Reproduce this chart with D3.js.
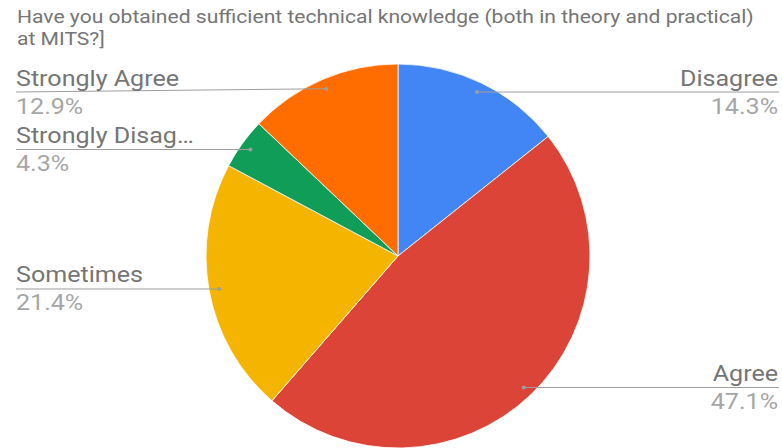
<!DOCTYPE html>
<html>
<head>
<meta charset="utf-8">
<script src="https://cdn.jsdelivr.net/npm/d3@7"></script>
<style>
  html, body { margin: 0; padding: 0; background: #fff; }
  svg { display: block; font-family: Roboto, "Noto Sans", sans-serif; }
</style>
</head>
<body>
<svg id="chart" width="782" height="448"></svg>
<script>
// ---- data ----
const titleLines = [
  "Have you obtained sufficient technical knowledge (both in theory and practical)",
  "at MITS?]"
];
const categories = ["Disagree", "Agree", "Sometimes", "Strongly Disagree", "Strongly Agree"];
const displayNames = ["Disagree", "Agree", "Sometimes", "Strongly Disag\u2026", "Strongly Agree"];
const values = [14.3, 47.1, 21.4, 4.3, 12.9];
const colors = ["#4285F4", "#DB4437", "#F4B400", "#0F9D58", "#FF6D00"];

// ---- layout ----
const W = 782, H = 448;
const cx = 398, cy = 256, R = 192, rPoint = 182;
const sx = 1.14; // horizontal text stretch
const svg = d3.select("#chart");

// title
svg.append("g").selectAll("text").data(titleLines).join("text")
  .attr("transform", (d, i) => `translate(17,${22.5 + i * 22.5}) scale(${sx},1)`)
  .attr("font-size", 18.5)
  .attr("fill", "#757575")
  .text(d => d);

const data = categories.map((c, i) => ({ name: c, label: displayNames[i], value: values[i], color: colors[i] }));
const pie = d3.pie().sort(null).value(d => d.value);
const arcs = pie(data);
const arc = d3.arc().innerRadius(0).outerRadius(R);
const pointArc = d3.arc().innerRadius(rPoint).outerRadius(rPoint);

const g = svg.append("g").attr("transform", `translate(${cx},${cy})`);
g.selectAll("path").data(arcs).join("path")
  .attr("d", arc)
  .attr("fill", d => d.data.color)
  .attr("stroke", "#fff")
  .attr("stroke-width", 0.8);

const fmt = d3.format(".1f");
const labels = svg.append("g");
arcs.forEach(a => {
  const mid = (a.startAngle + a.endAngle) / 2;
  const px = cx + Math.sin(mid) * rPoint;
  const py = cy - Math.cos(mid) * rPoint;
  const right = Math.sin(mid) > 0;
  const lineY = Math.max(py, 92);
  const lx = right ? 779 : 16;
  const tx = right ? 778 : 16;
  labels.append("path")
    .attr("d", `M${lx},${lineY}L${px},${py}`)
    .attr("stroke", "#9e9e9e")
    .attr("stroke-width", 1)
    .attr("fill", "none");
  labels.append("circle")
    .attr("cx", px).attr("cy", py).attr("r", 2)
    .attr("fill", "#9e9e9e");
  labels.append("text")
    .attr("transform", `translate(${tx},${lineY - 6.5}) scale(${sx},1)`)
    .attr("text-anchor", right ? "end" : "start")
    .attr("font-size", 22)
    .attr("fill", "#757575")
    .text(a.data.label);
  labels.append("text")
    .attr("transform", `translate(${tx},${lineY + 21.5}) scale(${sx},1)`)
    .attr("text-anchor", right ? "end" : "start")
    .attr("font-size", 22)
    .attr("fill", "#a6a6a6")
    .text(fmt(a.data.value) + "%");
});
</script>
</body>
</html>
